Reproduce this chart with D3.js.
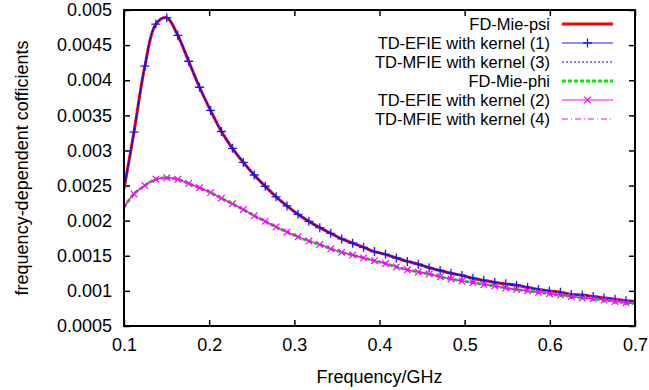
<!DOCTYPE html>
<html>
<head>
<meta charset="utf-8">
<script src="https://cdn.jsdelivr.net/npm/d3@7"></script>
<style>
  html, body { margin: 0; padding: 0; background: #fff; }
  svg { display: block; }
  text { font-family: "Liberation Sans", Arial, Helvetica, sans-serif; fill: #000; }
</style>
</head>
<body>
<svg id="chart" width="649" height="390"></svg>
<script>
// ---------- data ----------
const freq = [0.1, 0.1117, 0.1245, 0.1374, 0.1502, 0.1631, 0.1759, 0.1887, 0.2016, 0.2144, 0.2273,
  0.2401, 0.2529, 0.2658, 0.2786, 0.2914, 0.3043, 0.3171, 0.3299, 0.3428, 0.3556,
  0.3685, 0.3813, 0.3941, 0.4070, 0.4198, 0.4327, 0.4455, 0.4583, 0.4712, 0.4840,
  0.4968, 0.5097, 0.5225, 0.5354, 0.5482, 0.5610, 0.5739, 0.5867, 0.5995, 0.6124,
  0.6252, 0.6381, 0.6509, 0.6637, 0.6766, 0.6894, 0.7];

const psi = [0.00245, 0.00326, 0.00420, 0.00480, 0.00489, 0.00464, 0.00427, 0.00390, 0.00357, 0.00327, 0.00303,
  0.00283, 0.00265, 0.00249, 0.00234, 0.00221, 0.00209, 0.00199, 0.00190, 0.00182, 0.00174,
  0.00168, 0.00162, 0.00156, 0.00152, 0.00147, 0.00142, 0.00138, 0.00133, 0.00129, 0.00125,
  0.00122, 0.00118, 0.00115, 0.00112, 0.00110, 0.00108, 0.00105, 0.00102, 0.00100, 0.00098,
  0.00095, 0.00094, 0.00092, 0.00090, 0.00088, 0.00086, 0.00085];

const phi = [0.00219, 0.00238, 0.00250, 0.00259, 0.00261, 0.00259, 0.00253, 0.00247, 0.00240, 0.00232, 0.00224,
  0.00216, 0.00207, 0.00199, 0.00191, 0.00184, 0.00177, 0.00171, 0.00166, 0.00160, 0.00155,
  0.00151, 0.00147, 0.00143, 0.00139, 0.00134, 0.00130, 0.00127, 0.00124, 0.00120, 0.00117,
  0.00114, 0.00112, 0.00109, 0.00107, 0.00104, 0.00102, 0.00100, 0.00098, 0.00096, 0.00094,
  0.00092, 0.00090, 0.00089, 0.00087, 0.00085, 0.00083, 0.00082];

const xTicks = [0.1, 0.2, 0.3, 0.4, 0.5, 0.6, 0.7];
const xTickLabels = ["0.1", "0.2", "0.3", "0.4", "0.5", "0.6", "0.7"];
const yTicks = [0.0005, 0.001, 0.0015, 0.002, 0.0025, 0.003, 0.0035, 0.004, 0.0045, 0.005];
const yTickLabels = ["0.0005", "0.001", "0.0015", "0.002", "0.0025", "0.003", "0.0035", "0.004", "0.0045", "0.005"];

const seriesNames = ["FD-Mie-psi", "TD-EFIE with kernel (1)", "TD-MFIE with kernel (3)",
  "FD-Mie-phi", "TD-EFIE with kernel (2)", "TD-MFIE with kernel (4)"];
const seriesData = [psi, psi, psi, phi, phi, phi];
const xLabel = "Frequency/GHz";
const yLabel = "frequency-dependent cofficients";

// ---------- styles ----------
const styles = [
  { color: "#ff0000", width: 3, dash: null, marker: null },
  { color: "#1a1aff", width: 1.2, dash: null, marker: "plus" },
  { color: "#0000ff", width: 1.1, dash: "2,2", marker: null },
  { color: "#00f000", width: 3, dash: "4,2", marker: null },
  { color: "#ff00ff", width: 1.2, dash: null, marker: "cross" },
  { color: "#ff00ff", width: 1.2, dash: "6,3,1,3", marker: null }
];

// ---------- layout ----------
const svg = d3.select("#chart");
const L = 124, R = 635, T = 10, B = 326;
const x = d3.scaleLinear().domain([0.1, 0.7]).range([L, R]);
const y = d3.scaleLinear().domain([0.0005, 0.005]).range([B, T]);

svg.append("defs").append("clipPath").attr("id", "clip")
  .append("rect").attr("x", L).attr("y", T).attr("width", R - L).attr("height", B - T);

const font = 18;
const legFont = 16.5;

// axes (ticks inward, on all four sides)
const axB = svg.append("g").attr("transform", `translate(0,${B})`)
  .call(d3.axisBottom(x).tickValues(xTicks).tickSize(-6).tickPadding(12)
    .tickFormat((d, i) => xTickLabels[i]));
const axT = svg.append("g").attr("transform", `translate(0,${T})`)
  .call(d3.axisTop(x).tickValues(xTicks).tickSize(-6).tickFormat(""));
const axL = svg.append("g").attr("transform", `translate(${L},0)`)
  .call(d3.axisLeft(y).tickValues(yTicks).tickSize(-6).tickPadding(12)
    .tickFormat((d, i) => yTickLabels[i]));
const axR = svg.append("g").attr("transform", `translate(${R},0)`)
  .call(d3.axisRight(y).tickValues(yTicks).tickSize(-6).tickFormat(""));
[axB, axT, axL, axR].forEach(g => {
  g.select(".domain").remove();
  g.selectAll(".tick line").attr("stroke", "#000").attr("stroke-width", 1.5);
  g.selectAll("text").attr("font-size", font)
    .attr("font-family", '"Liberation Sans", Arial, sans-serif').attr("fill", "#000");
});

// lines
const pts = arr => freq.map((f, i) => [f, arr[i]]);
const line = d3.line().x(d => x(d[0])).y(d => y(d[1])).curve(d3.curveCatmullRom.alpha(0.5));
const plotG = svg.append("g").attr("clip-path", "url(#clip)");

function drawMarker(g, kind, cx, cy, color) {
  if (kind === "plus") {
    const s = 4.5;
    g.append("path").attr("d", `M${cx - s},${cy}H${cx + s}M${cx},${cy - s}V${cy + s}`)
      .attr("stroke", color).attr("stroke-width", 1.3).attr("fill", "none");
  } else if (kind === "cross") {
    const s = 3.3;
    g.append("path").attr("d", `M${cx - s},${cy - s}L${cx + s},${cy + s}M${cx - s},${cy + s}L${cx + s},${cy - s}`)
      .attr("stroke", color).attr("stroke-width", 1.2).attr("fill", "none");
  }
}

seriesData.forEach((arr, si) => {
  const st = styles[si];
  const p = plotG.append("path").datum(pts(arr)).attr("d", line)
    .attr("fill", "none").attr("stroke", st.color).attr("stroke-width", st.width);
  if (st.dash) p.attr("stroke-dasharray", st.dash);
  if (st.marker) {
    const mg = plotG.append("g");
    pts(arr).filter(d => d[0] > 0.1 && d[0] < 0.7)
      .forEach(d => drawMarker(mg, st.marker, x(d[0]), y(d[1]), st.color));
  }
});

// frame
svg.append("rect").attr("x", L).attr("y", T).attr("width", R - L).attr("height", B - T)
  .attr("fill", "none").attr("stroke", "#000").attr("stroke-width", 2);

// legend
const legG = svg.append("g");
const legTextX = 550, legX0 = 562, legX1 = 613, legY0 = 24, legDy = 19;
seriesNames.forEach((name, i) => {
  const st = styles[i];
  const yy = Math.round(legY0 + i * legDy);
  legG.append("text").attr("x", legTextX).attr("y", yy).attr("dy", "0.35em")
    .attr("text-anchor", "end").attr("font-size", legFont).text(name);
  const l = legG.append("line").attr("x1", legX0).attr("x2", legX1).attr("y1", yy).attr("y2", yy)
    .attr("stroke", st.color).attr("stroke-width", st.width);
  if (st.dash) l.attr("stroke-dasharray", st.dash);
  if (st.marker) drawMarker(legG, st.marker, (legX0 + legX1) / 2, yy, st.color);
});

// axis labels
svg.append("text").attr("x", (L + R) / 2).attr("y", 383).attr("text-anchor", "middle")
  .attr("font-size", font).text(xLabel);
svg.append("text").attr("transform", `translate(28,${(T + B) / 2}) rotate(-90)`)
  .attr("text-anchor", "middle").attr("font-size", font).text(yLabel);
</script>
</body>
</html>
